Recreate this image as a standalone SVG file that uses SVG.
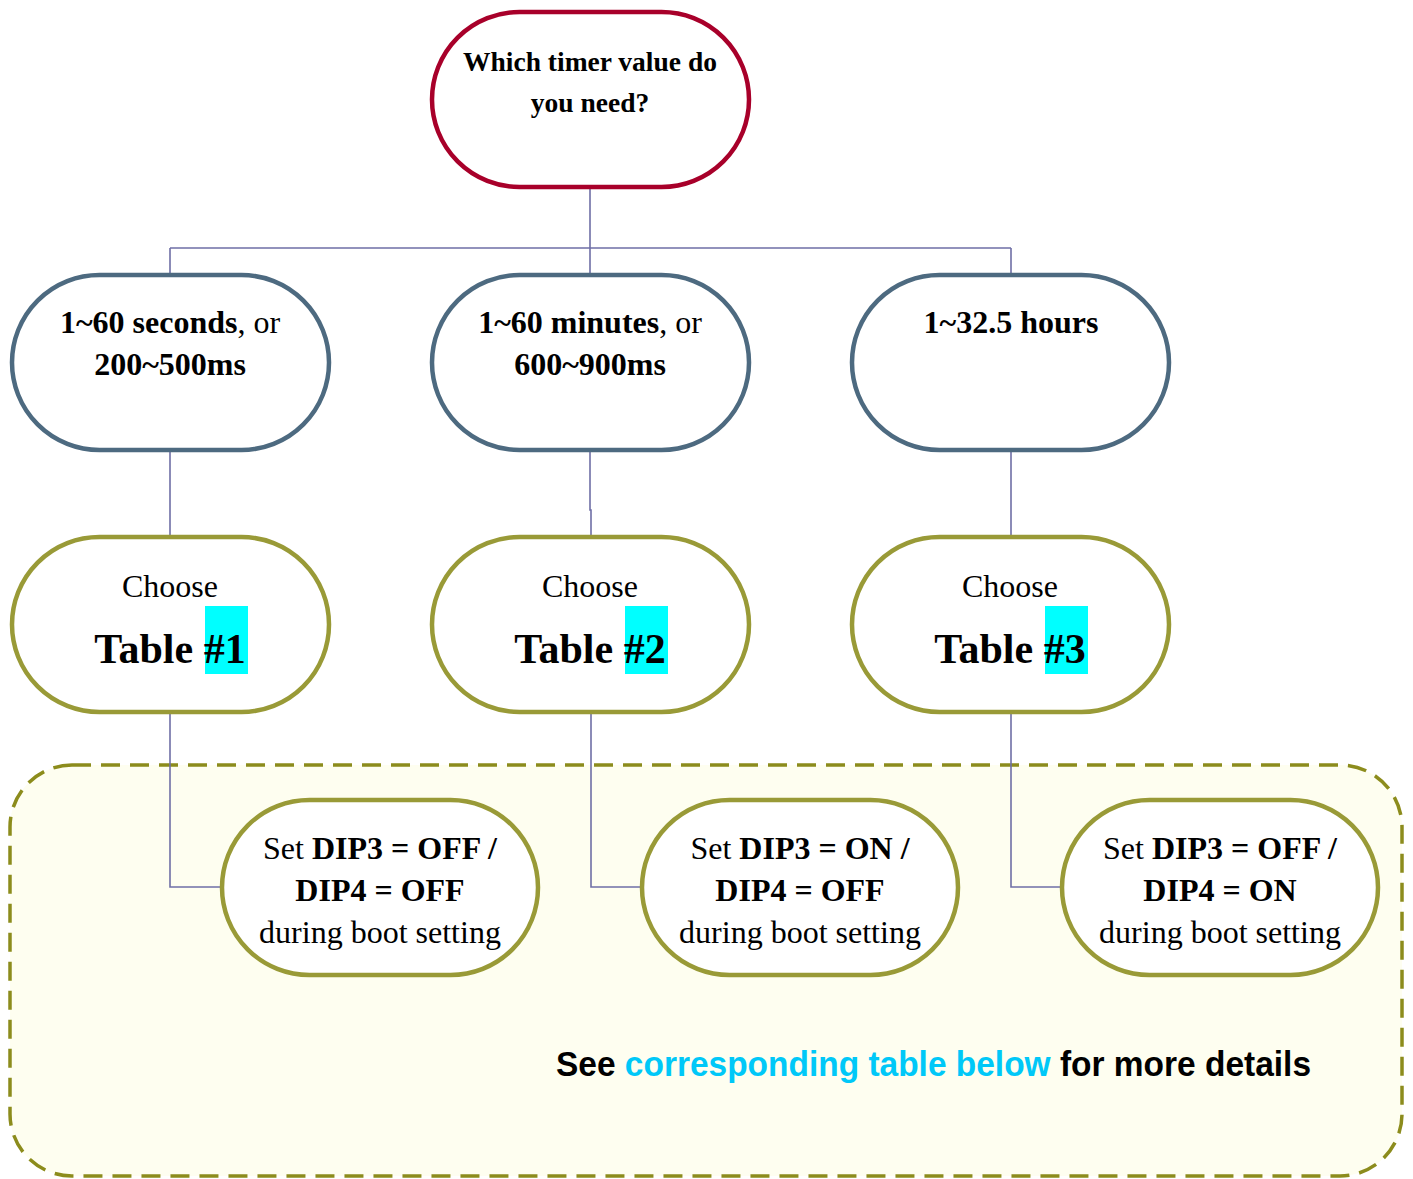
<svg xmlns="http://www.w3.org/2000/svg" width="1413" height="1179" viewBox="0 0 1413 1179">
<style>
.pill{fill:#fff;stroke-width:4.5}
.q{stroke:#A8002A}
.r{stroke:#4D6A80}
.o{stroke:#999A37}
.t{font-family:"Liberation Serif","Times New Roman",serif;fill:#000;text-anchor:middle}
.b{font-weight:bold}
.c{fill:none;stroke:#6F6FA6;stroke-width:1.6}
</style>
<rect width="1413" height="1179" fill="#fff"/>
<g id="container">
<rect x="10" y="765" width="1392" height="411" rx="62" fill="#FEFEF0" stroke="#8C8C1C" stroke-width="3.5" stroke-dasharray="19,10"/>
</g>
<g id="connectors" class="c">
<path d="M590 188V248M170 248H1011M170 248V276M590 248V276M1011 248V276"/>
<path d="M170 450V538M590 450V510H591V538M1011 450V538"/>
<path d="M170 712V887H222M591 712V887H642M1011 712V887H1062"/>
</g>
<g id="n0">
<rect class="pill q" x="432" y="12" width="317" height="175" rx="87.5"/>
<text class="t b" font-size="27.5"><tspan x="590" y="71">Which timer value do</tspan><tspan x="590" y="112">you need?</tspan></text>
</g>
<g id="n1">
<rect class="pill r" x="12" y="275" width="317" height="175" rx="87.5"/>
<text class="t" font-size="32"><tspan x="170" y="333"><tspan class="b">1~60 seconds</tspan>, or</tspan><tspan class="b" x="170" y="375">200~500ms</tspan></text>
</g>
<g id="n2">
<rect class="pill r" x="432" y="275" width="317" height="175" rx="87.5"/>
<text class="t" font-size="32"><tspan x="590" y="333"><tspan class="b">1~60 minutes</tspan>, or</tspan><tspan class="b" x="590" y="375">600~900ms</tspan></text>
</g>
<g id="n3">
<rect class="pill r" x="852" y="275" width="317" height="175" rx="87.5"/>
<text class="t b" font-size="32" x="1011" y="333">1~32.5 hours</text>
</g>
<g id="n4">
<rect class="pill o" x="12" y="537" width="317" height="175" rx="87.5"/>
<rect x="205" y="606" width="43" height="68" fill="#00FFFF"/>
<text class="t" font-size="32" x="170" y="597">Choose</text>
<text class="t b" font-size="42" x="170" y="663">Table #1</text>
</g>
<g id="n5">
<rect class="pill o" x="432" y="537" width="317" height="175" rx="87.5"/>
<rect x="625" y="606" width="43" height="68" fill="#00FFFF"/>
<text class="t" font-size="32" x="590" y="597">Choose</text>
<text class="t b" font-size="42" x="590" y="663">Table #2</text>
</g>
<g id="n6">
<rect class="pill o" x="852" y="537" width="317" height="175" rx="87.5"/>
<rect x="1045" y="606" width="43" height="68" fill="#00FFFF"/>
<text class="t" font-size="32" x="1010" y="597">Choose</text>
<text class="t b" font-size="42" x="1010" y="663">Table #3</text>
</g>
<g id="n7">
<rect class="pill o" x="222" y="800" width="316" height="175" rx="87.5"/>
<text class="t" font-size="32"><tspan x="380" y="859">Set <tspan class="b">DIP3 = OFF /</tspan></tspan><tspan class="b" x="380" y="901">DIP4 = OFF</tspan><tspan x="380" y="943">during boot setting</tspan></text>
</g>
<g id="n8">
<rect class="pill o" x="642" y="800" width="316" height="175" rx="87.5"/>
<text class="t" font-size="32"><tspan x="800" y="859">Set <tspan class="b">DIP3 = ON /</tspan></tspan><tspan class="b" x="800" y="901">DIP4 = OFF</tspan><tspan x="800" y="943">during boot setting</tspan></text>
</g>
<g id="n9">
<rect class="pill o" x="1062" y="800" width="316" height="175" rx="87.5"/>
<text class="t" font-size="32"><tspan x="1220" y="859">Set <tspan class="b">DIP3 = OFF /</tspan></tspan><tspan class="b" x="1220" y="901">DIP4 = ON</tspan><tspan x="1220" y="943">during boot setting</tspan></text>
</g>
<g id="note">
<text font-family="'Liberation Sans Narrow','Liberation Sans',Arial,sans-serif" font-weight="bold" font-size="35" x="556" y="1076" textLength="755" lengthAdjust="spacingAndGlyphs">See <tspan fill="#00C8F8">corresponding table below</tspan> for more details</text>
</g>
</svg>
